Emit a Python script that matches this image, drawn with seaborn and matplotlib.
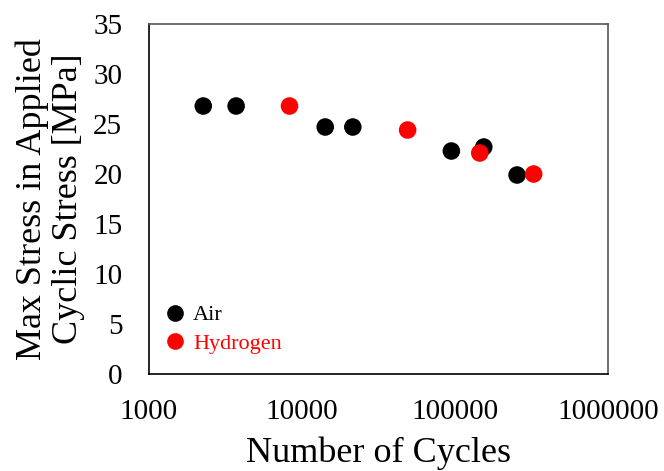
import matplotlib
matplotlib.use("Agg")
import matplotlib.pyplot as plt
import matplotlib.ticker as mticker
import numpy as np
import pandas as pd
import seaborn as sns

# Fatigue results: cycles to failure vs. max applied stress
air_cycles = [2270, 3720, 14200, 21500, 94600, 154000, 254000]
air_stress = [26.8, 26.8, 24.7, 24.7, 22.3, 22.7, 19.9]
h2_cycles = [8300, 49000, 145000, 326000]
h2_stress = [26.8, 24.4, 22.1, 20.0]

environments = ["Air", "Hydrogen"]
colors = {"Air": "#000000", "Hydrogen": "#ff0000"}
x_ticks = [1000, 10000, 100000, 1000000]
y_ticks = [0, 5, 10, 15, 20, 25, 30, 35]

df = pd.DataFrame({
    "cycles": air_cycles + h2_cycles,
    "stress": air_stress + h2_stress,
    "env": ["Air"] * len(air_cycles) + ["Hydrogen"] * len(h2_cycles),
})

sns.set_theme(style="white")
plt.rcParams["font.family"] = ["Liberation Serif", "DejaVu Serif"]
plt.rcParams.update({"text.color": "black", "axes.labelcolor": "black",
                     "xtick.color": "black", "ytick.color": "black"})

fig = plt.figure(figsize=(6.64, 4.71), dpi=100)
ax = fig.add_axes([0.224, 0.206, 0.692, 0.743])

sns.scatterplot(data=df, x="cycles", y="stress", hue="env", hue_order=environments,
                palette=colors, s=160, linewidth=0, ax=ax, legend=False, zorder=3)

ax.set_xscale("log")
ax.set_xlim(1000, 1000000)
ax.set_ylim(0, 35)
ax.set_xticks(x_ticks)
ax.xaxis.set_major_formatter(mticker.FuncFormatter(lambda v, p: f"{int(round(v))}"))
ax.xaxis.set_minor_locator(mticker.LogLocator(base=10, subs=np.arange(2, 10)))
ax.xaxis.set_minor_formatter(mticker.NullFormatter())
ax.set_yticks(y_ticks)
ax.yaxis.set_minor_locator(mticker.MultipleLocator(1))

ax.tick_params(axis="both", which="major", direction="in", length=7, width=1,
               color="black", labelcolor="black", labelsize=21, top=False, right=False)
ax.tick_params(axis="both", which="minor", direction="in", length=4, width=1,
               color="black", top=False, right=False)
ax.tick_params(axis="x", which="major", pad=18)
ax.tick_params(axis="y", which="major", pad=19)

for side in ["left", "bottom"]:
    ax.spines[side].set_color("black")
    ax.spines[side].set_linewidth(1.2)
for side in ["top", "right"]:
    ax.spines[side].set_color("#555555")
    ax.spines[side].set_linewidth(1.2)

ax.set_xlabel("Number of Cycles", fontsize=26, labelpad=8, color="black")
ax.set_ylabel("Max Stress in Applied\nCyclic Stress [MPa]", fontsize=26,
              labelpad=6, linespacing=1.12, color="black")

# legend with text coloured by environment
handles = [plt.Line2D([], [], marker="o", linestyle="", markersize=12,
                      markerfacecolor=colors[e], markeredgewidth=0)
           for e in environments]
leg = ax.legend(handles, environments, loc="lower left", bbox_to_anchor=(0.0, 0.02),
                frameon=False, fontsize=16, handletextpad=0.2, labelspacing=0.35,
                borderaxespad=0.2, handlelength=1.2)
for txt, e in zip(leg.get_texts(), environments):
    txt.set_color(colors[e])

fig.savefig("out.png", dpi=100)
